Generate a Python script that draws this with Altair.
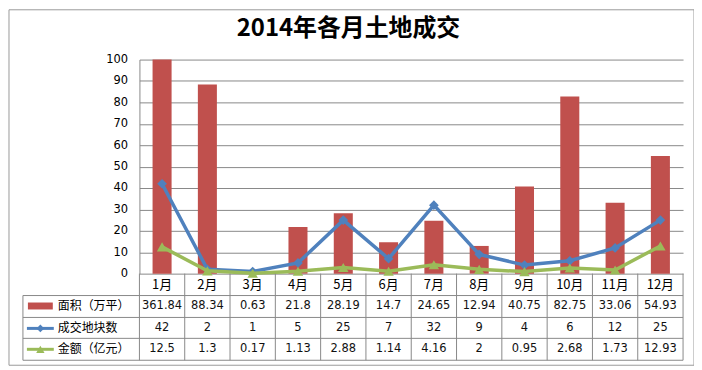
import altair as alt
import pandas as pd

months = ["1月", "2月", "3月", "4月", "5月", "6月", "7月", "8月", "9月", "10月", "11月", "12月"]
area = [361.84, 88.34, 0.63, 21.8, 28.19, 14.7, 24.65, 12.94, 40.75, 82.75, 33.06, 54.93]
count = [42, 2, 1, 5, 25, 7, 32, 9, 4, 6, 12, 25]
amount = [12.5, 1.3, 0.17, 1.13, 2.88, 1.14, 4.16, 2, 0.95, 2.68, 1.73, 12.93]
series_names = ["面积（万平）", "成交地块数", "金额（亿元）"]
title_text = "2014年各月土地成交"
y_ticks = [0, 10, 20, 30, 40, 50, 60, 70, 80, 90, 100]

RED = "#C0504D"
BLUE = "#4F81BD"
GREEN = "#9BBB59"
GRID = "#888888"
CJK = "Noto Sans CJK SC"
NUM = "DejaVu Sans"

df = pd.DataFrame({
    "month": months,
    "area": area,
    "count": count,
    "amount": amount,
    "area_lbl": [f"{v:g}" for v in area],
    "count_lbl": [f"{v:g}" for v in count],
    "amount_lbl": [f"{v:g}" for v in amount],
})
one = pd.DataFrame({"k": [0]})

W, H = 546, 215
ROW_Y = [226, 248, 270, 291]       # text centres of table rows (pixels below plot top)
LINE_Y = [237, 259, 280, 302]      # horizontal table lines

xband = alt.X("month:N", sort=months, axis=None,
              scale=alt.Scale(paddingInner=0, paddingOuter=0))
yscale = alt.Scale(domain=[0, 100], clamp=True, nice=False, zero=True)
yaxis = alt.Axis(values=y_ticks, title=None, ticks=False, labelOverlap=False, labelFlush=False,
                 tickCount=11, labelFont=NUM, labelFontSize=11.5, labelColor="#000000",
                 labelPadding=12, domainColor=GRID, gridColor=GRID, gridWidth=1)

base = alt.Chart(df).encode(x=xband)

bars = base.mark_bar(color=RED, width=alt.RelativeBandSize(0.42)).encode(
    y=alt.Y("area:Q", scale=yscale, axis=yaxis, title=None))
line_count = base.mark_line(color=BLUE, strokeWidth=3.5,
                            point=alt.OverlayMarkDef(shape="diamond", size=95, filled=True, color=BLUE, opacity=1)
                            ).encode(y=alt.Y("count:Q", scale=yscale, axis=yaxis, title=None))
line_amount = base.mark_line(color=GREEN, strokeWidth=3.5,
                             point=alt.OverlayMarkDef(shape="triangle-up", size=110, filled=True, color=GREEN, opacity=1)
                             ).encode(y=alt.Y("amount:Q", scale=yscale, axis=yaxis, title=None))

# table text
month_txt = base.mark_text(font=CJK, fontSize=13, color="#000000", baseline="middle").encode(
    text="month:N", y=alt.value(ROW_Y[0]))
area_txt = base.mark_text(font=NUM, fontSize=11.5, color="#111111", baseline="middle").encode(
    text="area_lbl:N", y=alt.value(ROW_Y[1]))
count_txt = base.mark_text(font=NUM, fontSize=11.5, color="#111111", baseline="middle").encode(
    text="count_lbl:N", y=alt.value(ROW_Y[2]))
amount_txt = base.mark_text(font=NUM, fontSize=11.5, color="#111111", baseline="middle").encode(
    text="amount_lbl:N", y=alt.value(ROW_Y[3]))

# table grid
vsep = base.mark_rule(color=GRID, strokeWidth=1).encode(
    x=alt.X("month:N", sort=months, bandPosition=0, axis=None,
            scale=alt.Scale(paddingInner=0, paddingOuter=0)),
    y=alt.value(H), y2=alt.value(LINE_Y[-1]))
dummy = alt.Chart(one)
right_border = dummy.mark_rule(color=GRID).encode(x=alt.value(W), y=alt.value(H), y2=alt.value(LINE_Y[-1]))
left_border = dummy.mark_rule(color=GRID).encode(x=alt.value(-117), y=alt.value(LINE_Y[0]), y2=alt.value(LINE_Y[-1]))
hlines = [dummy.mark_rule(color=GRID).encode(x=alt.value(-117), x2=alt.value(W), y=alt.value(yy)) for yy in LINE_Y]

# legend column
leg_bar = dummy.mark_rect(color=RED).encode(x=alt.value(-112), x2=alt.value(-87),
                                            y=alt.value(ROW_Y[1] - 4), y2=alt.value(ROW_Y[1] + 3))
leg_blue = dummy.mark_rule(color=BLUE, strokeWidth=3).encode(x=alt.value(-113), x2=alt.value(-86), y=alt.value(ROW_Y[2]))
leg_blue_pt = dummy.mark_point(shape="diamond", size=60, filled=True, color=BLUE, opacity=1).encode(
    x=alt.value(-99.5), y=alt.value(ROW_Y[2]))
leg_green = dummy.mark_rule(color=GREEN, strokeWidth=3).encode(x=alt.value(-113), x2=alt.value(-86), y=alt.value(ROW_Y[3]))
leg_green_pt = dummy.mark_point(shape="triangle-up", size=70, filled=True, color=GREEN, opacity=1).encode(
    x=alt.value(-99.5), y=alt.value(ROW_Y[3]))
leg_txt = [dummy.mark_text(text=name, font=CJK, fontSize=12, color="#000000", align="left", baseline="middle").encode(
    x=alt.value(-82), y=alt.value(ROW_Y[i + 1])) for i, name in enumerate(series_names)]

# title and frame
title = dummy.mark_text(text=title_text, font=CJK, fontSize=24, fontWeight="bold", color="#000000",
                        align="center", baseline="middle").encode(x=alt.value(210), y=alt.value(-31))
frame = dummy.mark_rect(filled=False, stroke="#999999", strokeWidth=1).encode(
    x=alt.value(-131), x2=alt.value(557), y=alt.value(-50), y2=alt.value(307))

chart = alt.layer(
    frame, bars, line_count, line_amount,
    vsep, right_border, left_border, *hlines,
    month_txt, area_txt, count_txt, amount_txt,
    leg_bar, leg_blue, leg_blue_pt, leg_green, leg_green_pt, *leg_txt,
    title,
).properties(
    width=W, height=H,
    autosize=alt.AutoSizeParams(type="none"),
    padding={"left": 132, "top": 51, "right": 11, "bottom": 100},
    background="white",
).configure_view(stroke=None)

chart.save("out.html", embed_options={"renderer": "svg", "actions": False})
